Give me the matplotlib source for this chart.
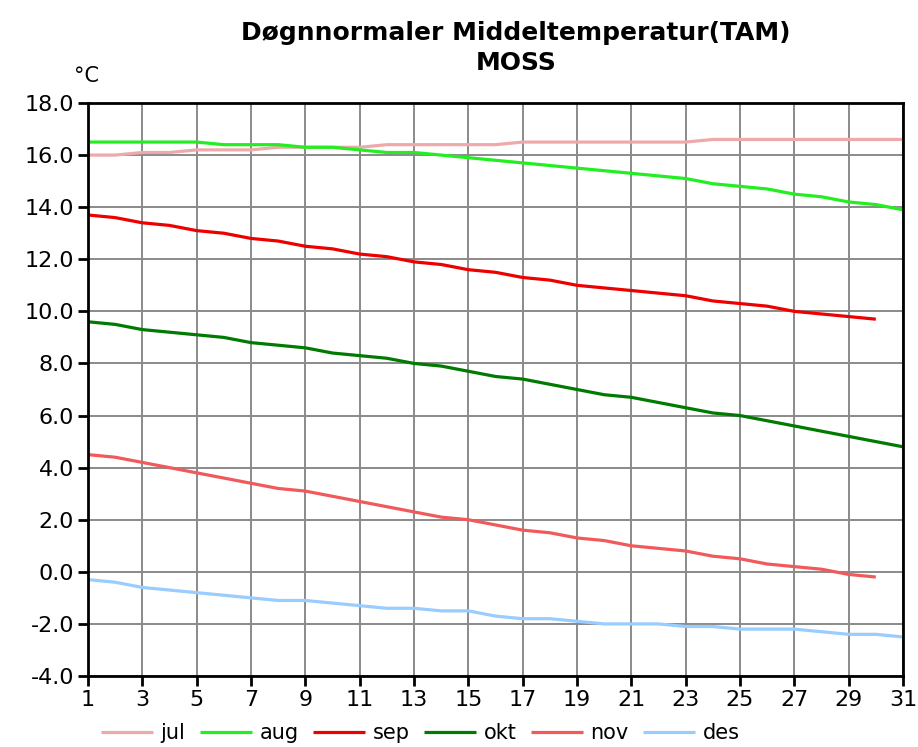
import numpy as np
import matplotlib
matplotlib.use('Agg')
import matplotlib.pyplot as plt

days31 = list(range(1, 32))
days30 = list(range(1, 31))

jul = [16.0, 16.0, 16.1, 16.1, 16.2, 16.2, 16.2, 16.3, 16.3, 16.3, 16.3, 16.4, 16.4, 16.4, 16.4, 16.4,
       16.5, 16.5, 16.5, 16.5, 16.5, 16.5, 16.5, 16.6, 16.6, 16.6, 16.6, 16.6, 16.6, 16.6, 16.6]
aug = [16.5, 16.5, 16.5, 16.5, 16.5, 16.4, 16.4, 16.4, 16.3, 16.3, 16.2, 16.1, 16.1, 16.0, 15.9, 15.8,
       15.7, 15.6, 15.5, 15.4, 15.3, 15.2, 15.1, 14.9, 14.8, 14.7, 14.5, 14.4, 14.2, 14.1, 13.9]
sep = [13.7, 13.6, 13.4, 13.3, 13.1, 13.0, 12.8, 12.7, 12.5, 12.4, 12.2, 12.1, 11.9, 11.8, 11.6,
       11.5, 11.3, 11.2, 11.0, 10.9, 10.8, 10.7, 10.6, 10.4, 10.3, 10.2, 10.0, 9.9, 9.8, 9.7]
okt = [9.6, 9.5, 9.3, 9.2, 9.1, 9.0, 8.8, 8.7, 8.6, 8.4, 8.3, 8.2, 8.0, 7.9, 7.7, 7.5,
       7.4, 7.2, 7.0, 6.8, 6.7, 6.5, 6.3, 6.1, 6.0, 5.8, 5.6, 5.4, 5.2, 5.0, 4.8]
nov = [4.5, 4.4, 4.2, 4.0, 3.8, 3.6, 3.4, 3.2, 3.1, 2.9, 2.7, 2.5, 2.3, 2.1, 2.0,
       1.8, 1.6, 1.5, 1.3, 1.2, 1.0, 0.9, 0.8, 0.6, 0.5, 0.3, 0.2, 0.1, -0.1, -0.2]
des = [-0.3, -0.4, -0.6, -0.7, -0.8, -0.9, -1.0, -1.1, -1.1, -1.2, -1.3, -1.4, -1.4, -1.5, -1.5, -1.7,
       -1.8, -1.8, -1.9, -2.0, -2.0, -2.0, -2.1, -2.1, -2.2, -2.2, -2.2, -2.3, -2.4, -2.4, -2.5]

months = ['jul', 'aug', 'sep', 'okt', 'nov', 'des']
series = [(days31, jul), (days31, aug), (days30, sep), (days31, okt), (days30, nov), (days31, des)]
farger = ['#eeaaaa', '#22ee22', '#ee0000', '#007a00', '#f05a5a', '#99ccff']

plt.rcParams['font.family'] = ['DejaVu Sans']

fig = plt.figure(figsize=(9.18, 7.47), dpi=100)
ax = fig.add_axes([88/918., 1-676/747., (903-88)/918., (676-103)/747.])

for (x, y), c, m in zip(series, farger, months):
    ax.plot(x, y, color=c, lw=2.3, label=m, solid_capstyle='butt')

ax.set_xlim(1, 31)
ax.set_ylim(-4, 18)
ax.set_xticks(range(1, 32, 2))
ax.set_yticks(np.arange(-4, 18.1, 2))
ax.set_yticklabels(['%.1f' % v for v in np.arange(-4, 18.1, 2)])
ax.grid(True, color='#8a8a8a', lw=1.4)
ax.set_axisbelow(True)
for s in ax.spines.values():
    s.set_linewidth(2)
ax.tick_params(direction='out', length=7, width=2, labelsize=16, pad=3)

fig.text(516/918., 1-33/747., 'Døgnnormaler Middeltemperatur(TAM)', ha='center', va='center',
         fontsize=18, fontweight='bold')
fig.text(516/918., 1-63/747., 'MOSS', ha='center', va='center', fontsize=18, fontweight='bold')
fig.text(87/918., 1-76/747., '°C', ha='center', va='center', fontsize=15)

leg = fig.legend(loc='center', bbox_to_anchor=(0.458, 1-733/747.), ncol=6, frameon=False,
                 fontsize=15, handlelength=2.5, columnspacing=0.7, handletextpad=0.35)

fig.savefig('out.png', dpi=100)
